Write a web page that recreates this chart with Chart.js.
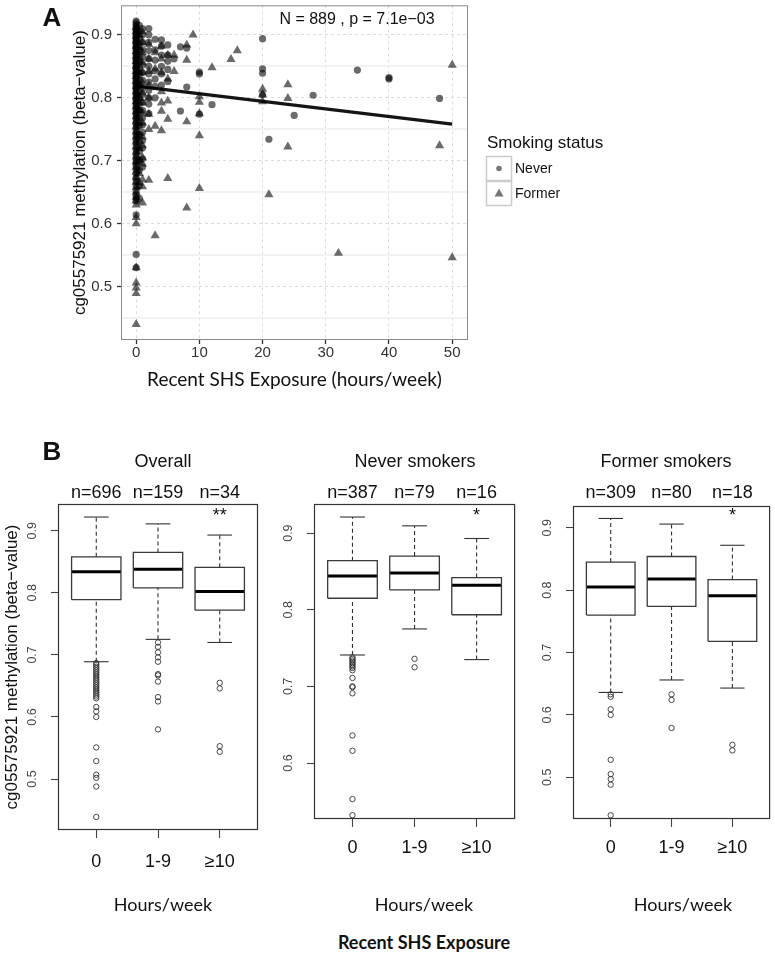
<!DOCTYPE html>
<html>
<head>
<meta charset="utf-8">
<script src="https://cdn.jsdelivr.net/npm/chart.js@4.4.1/dist/chart.umd.min.js"></script>
<style>
body { margin: 0; background: #fff; }
#wrap { position: relative; width: 775px; height: 953px; overflow: hidden; font-family: "Liberation Sans", Arial, sans-serif; color: #111; }
canvas { position: absolute; }
.lbl { position: absolute; white-space: nowrap; transform: translate(-50%, -50%); line-height: 1; }
.cal { font-family: Lato, "Open Sans", sans-serif; }
</style>
</head>
<body>
<div id="wrap">
  <canvas id="scatterA" width="640" height="400" style="left:0;top:0"></canvas>
  <canvas id="boxAll" width="265" height="480" style="left:0;top:440px"></canvas>
  <canvas id="boxNever" width="255" height="480" style="left:265px;top:440px"></canvas>
  <canvas id="boxFormer" width="255" height="480" style="left:520px;top:440px"></canvas>

  <div class="lbl" style="left:52px;top:17px;font-weight:bold;font-size:26px">A</div>
  <div class="lbl" style="left:357px;top:19px;font-size:16px">N = 889 , p = 7.1e−03</div>
  <div class="lbl" style="left:52px;top:451px;font-weight:bold;font-size:26px">B</div>
  <div class="lbl" style="left:163px;top:461px;font-size:18px">Overall</div>
  <div class="lbl" style="left:415px;top:461px;font-size:18px">Never smokers</div>
  <div class="lbl" style="left:666px;top:461px;font-size:18px">Former smokers</div>
  <div class="lbl cal" style="left:163px;top:904px;font-size:18px">Hours/week</div>
  <div class="lbl cal" style="left:424px;top:904px;font-size:18px">Hours/week</div>
  <div class="lbl cal" style="left:683px;top:904px;font-size:18px">Hours/week</div>
  <div class="lbl cal" style="left:424px;top:942px;font-size:18px;font-weight:bold">Recent SHS Exposure</div>
</div>
<script>
// ---- panel A: scatter, [hours/week, beta] ----
const neverPoints = [
  [0,0.922],[0,0.919],[0,0.916],[0,0.913],[0,0.91],[0,0.908],[0,0.905],[0,0.903],[0,0.9],[0,0.898],
  [0,0.895],[0,0.892],[0,0.89],[0,0.887],[0,0.884],[0,0.881],[0,0.879],[0,0.876],[0,0.873],[0,0.87],
  [0,0.868],[0,0.865],[0,0.862],[0,0.859],[0,0.857],[0,0.854],[0,0.851],[0,0.848],[0,0.846],[0,0.843],
  [0,0.84],[0,0.837],[0,0.835],[0,0.832],[0,0.829],[0,0.826],[0,0.823],[0,0.82],[0,0.817],[0,0.814],
  [0,0.811],[0,0.808],[0,0.805],[0,0.801],[0,0.798],[0,0.795],[0,0.791],[0,0.787],[0,0.783],[0,0.779],
  [0,0.775],[0,0.771],[0,0.767],[0,0.762],[0,0.758],[0,0.753],[0,0.748],[0,0.743],[0,0.738],[0,0.733],
  [0,0.728],[0,0.722],[0,0.717],[0,0.711],[0,0.706],[0,0.7],[0,0.696],[0,0.691],[0,0.686],[0,0.68],
  [0,0.673],[0,0.667],[0,0.66],[0,0.652],[0,0.645],[0,0.641],[0,0.636],[0,0.614],[0,0.551],[0,0.53],
  [0.5,0.915],[0.5,0.905],[0.5,0.895],[0.5,0.885],[0.5,0.875],[0.5,0.866],[0.5,0.856],[0.5,0.847],
  [0.5,0.838],[0.5,0.829],[0.5,0.82],[0.5,0.81],[0.5,0.8],[0.5,0.79],[0.5,0.78],[0.5,0.768],
  [0.5,0.755],[0.5,0.742],[0.5,0.73],[0.5,0.715],[0.5,0.7],[0.5,0.685],[0.5,0.66],[0.5,0.64],
  [1,0.91],[1,0.9],[1,0.888],[1,0.876],[1,0.865],[1,0.852],[1,0.84],[1,0.828],[1,0.816],[1,0.805],
  [1,0.793],[1,0.78],[1,0.768],[1,0.757],[1,0.745],[1,0.732],[1,0.72],[1,0.703],[1,0.69],
  [2,0.91],[2,0.9],[2,0.888],[2,0.875],[2,0.862],[2,0.85],[2,0.838],[2,0.825],[2,0.812],[2,0.8],[2,0.79],[2,0.775],
  [3,0.893],[3,0.876],[3,0.86],[3,0.843],[3,0.83],[3,0.818],[3,0.8],
  [4,0.892],[4,0.882],[4,0.868],[4,0.85],[4,0.838],[4,0.82],
  [5,0.884],[5,0.868],[5,0.858],[5,0.845],[5,0.826],
  [6,0.862],[7,0.881],[7,0.779],[8,0.879],[8,0.817],
  [10,0.841],[10,0.838],[10,0.774],[12,0.789],
  [20,0.894],[20,0.846],[20,0.839],[20,0.805],[21,0.734],[25,0.772],[28,0.804],
  [35,0.844],[40,0.832],[40,0.83],[48,0.799]
];
const formerPoints = [
  [0,0.912],[0,0.905],[0,0.898],[0,0.89],[0,0.882],[0,0.874],[0,0.866],[0,0.858],[0,0.85],[0,0.842],
  [0,0.834],[0,0.826],[0,0.818],[0,0.81],[0,0.802],[0,0.794],[0,0.786],[0,0.778],[0,0.77],[0,0.762],
  [0,0.754],[0,0.746],[0,0.738],[0,0.73],[0,0.722],[0,0.714],[0,0.706],[0,0.698],[0,0.69],[0,0.682],
  [0,0.674],[0,0.666],[0,0.658],[0,0.65],[0,0.642],[0,0.636],[0,0.63],[0,0.61],[0,0.6],[0,0.53],
  [0,0.506],[0,0.498],[0,0.489],[0,0.44],
  [0.5,0.9],[0.5,0.88],[0.5,0.86],[0.5,0.84],[0.5,0.82],[0.5,0.8],[0.5,0.78],[0.5,0.76],[0.5,0.74],
  [0.5,0.72],[0.5,0.7],[0.5,0.68],[0.5,0.665],
  [1,0.905],[1,0.888],[1,0.872],[1,0.856],[1,0.84],[1,0.824],[1,0.808],[1,0.792],[1,0.776],[1,0.76],
  [1,0.738],[1,0.724],[1,0.705],[1,0.695],[1,0.67],[1,0.659],[1,0.633],
  [2,0.885],[2,0.862],[2,0.842],[2,0.82],[2,0.8],[2,0.774],[2,0.75],[2,0.669],
  [3,0.872],[3,0.846],[3,0.755],[3,0.581],
  [4,0.882],[4,0.862],[4,0.84],[4,0.81],[4,0.792],[4,0.779],[4,0.748],
  [5,0.868],[5,0.83],[5,0.795],[5,0.766],[5,0.672],
  [6,0.868],[6,0.842],[8,0.884],[8,0.86],[8,0.762],[8,0.625],[9,0.9],
  [10,0.802],[10,0.793],[10,0.775],[10,0.74],[10,0.656],
  [12,0.848],[15,0.861],[16,0.875],[20,0.814],[20,0.805],[20,0.794],[21,0.646],
  [24,0.821],[24,0.799],[24,0.722],[32,0.553],[48,0.724],[50,0.852],[50,0.546]
];
const fitHours = [0, 50];
const fitBeta = [0.8185, 0.758];
const hourTicks = [0, 10, 20, 30, 40, 50];
const betaTicksA = [0.45, 0.5, 0.55, 0.6, 0.65, 0.7, 0.75, 0.8, 0.85, 0.9];

// ---- panel B: boxplots by exposure group ----
const groups = ['0', '1-9', '≥10'];
const allN = [696, 159, 34];
const allLow = [0.689, 0.725, 0.72];
const allQ1 = [0.789, 0.808, 0.772];
const allMed = [0.834, 0.838, 0.802];
const allQ3 = [0.858, 0.865, 0.841];
const allHigh = [0.922, 0.911, 0.893];
const allOut = [
  [0.687, 0.684, 0.681, 0.678, 0.675, 0.672, 0.669, 0.666, 0.663, 0.66, 0.657, 0.654, 0.651, 0.648,
   0.645, 0.642, 0.639, 0.636, 0.633, 0.63, 0.616, 0.609, 0.6, 0.551, 0.529, 0.507, 0.502, 0.488, 0.439],
  [0.72, 0.713, 0.704, 0.696, 0.689, 0.669, 0.667, 0.657, 0.632, 0.625, 0.58],
  [0.655, 0.646, 0.553, 0.544]
];
const neverN = [387, 79, 16];
const neverLow = [0.741, 0.775, 0.735];
const neverQ1 = [0.815, 0.826, 0.7935];
const neverMed = [0.844, 0.848, 0.832];
const neverQ3 = [0.864, 0.87, 0.842];
const neverHigh = [0.921, 0.9095, 0.893];
const neverOut = [
  [0.738, 0.736, 0.734, 0.732, 0.73, 0.728, 0.726, 0.724, 0.721, 0.711, 0.7, 0.699, 0.691, 0.636, 0.616, 0.553, 0.532],
  [0.736, 0.725],
  []
];
const formerN = [309, 80, 18];
const formerLow = [0.636, 0.656, 0.643];
const formerQ1 = [0.76, 0.774, 0.718];
const formerMed = [0.805, 0.818, 0.791];
const formerQ3 = [0.845, 0.854, 0.817];
const formerHigh = [0.915, 0.906, 0.872];
const formerOut = [
  [0.633, 0.629, 0.609, 0.6, 0.528, 0.505, 0.497, 0.488, 0.439],
  [0.633, 0.624, 0.579],
  [0.552, 0.543]
];

Chart.defaults.font.family = '"Liberation Sans", Arial, sans-serif';
Chart.defaults.color = '#222';

const isMajor = v => v !== undefined && Math.round(v * 100) % 10 === 0;
const asXY = pts => pts.map(p => ({ x: p[0], y: p[1] }));
// keep tick labels from pushing the plot area around
const noPad = s => { s.paddingTop = 0; s.paddingBottom = 0; s.paddingLeft = 0; s.paddingRight = 0; };

// plot frame
const frame = {
  id: 'frame',
  afterDatasetsDraw(chart, args, o) {
    const a = chart.chartArea, c = chart.ctx;
    c.save();
    c.strokeStyle = o.color;
    c.lineWidth = o.width;
    c.strokeRect(a.left + 0.5, a.top + 0.5, a.width - 1, a.height - 1);
    c.restore();
  }
};

// ggplot style legend for panel A
const legendA = {
  id: 'legendA',
  afterDraw(chart) {
    const c = chart.ctx;
    c.save();
    c.fillStyle = '#111';
    c.textBaseline = 'middle';
    c.font = '17px "Liberation Sans", Arial';
    c.fillText('Smoking status', 487, 143);
    c.strokeStyle = '#cccccc';
    c.lineWidth = 1.5;
    c.strokeRect(486.5, 156.5, 25, 24);
    c.strokeRect(486.5, 181.5, 25, 24);
    c.fillStyle = '#777';
    c.beginPath(); c.arc(499, 168.5, 2.8, 0, Math.PI * 2); c.fill();
    c.beginPath(); c.moveTo(499, 188.5); c.lineTo(503.5, 196.5); c.lineTo(494.5, 196.5); c.closePath(); c.fill();
    c.fillStyle = '#111';
    c.font = '14px "Liberation Sans", Arial';
    c.fillText('Never', 515, 169);
    c.fillText('Former', 515, 194);
    c.restore();
  }
};

new Chart(document.getElementById('scatterA'), {
  type: 'scatter',
  data: {
    datasets: [
      { label: 'Never', data: asXY(neverPoints), pointStyle: 'circle', pointRadius: 3.6,
        backgroundColor: 'rgba(0,0,0,0.58)', borderWidth: 0 },
      { label: 'Former', data: asXY(formerPoints), pointStyle: 'triangle', pointRadius: 5.3,
        backgroundColor: 'rgba(0,0,0,0.58)', borderWidth: 0 },
      { label: 'fit', data: fitHours.map((h, i) => ({ x: h, y: fitBeta[i] })), showLine: true,
        borderColor: '#151515', borderWidth: 3.2, pointRadius: 0 }
    ]
  },
  options: {
    responsive: false, animation: false, events: [],
    layout: { padding: { left: 0, top: 2, right: 172, bottom: 0 } },
    plugins: { legend: { display: false }, tooltip: { enabled: false }, frame: { color: '#8a8a8a', width: 1 } },
    scales: {
      x: {
        type: 'linear', min: -2.4, max: 52.5,
        afterBuildTicks: s => { s.ticks = hourTicks.map(v => ({ value: v })); },
        afterFit: s => { s.height = 60; noPad(s); },
        ticks: { font: { size: 15 }, color: '#333', padding: 0, maxRotation: 0 },
        grid: { color: '#dcdcdc', tickColor: '#333', tickLength: 4, tickWidth: 1.3 },
        border: { display: false, dash: [3, 3] },
        title: { display: true, text: 'Recent SHS Exposure (hours/week)', color: '#111',
          font: { family: 'Lato, "Open Sans", sans-serif', size: 19 }, padding: { top: 0, bottom: 9 } }
      },
      y: {
        min: 0.415, max: 0.947,
        afterBuildTicks: s => { s.ticks = betaTicksA.map(v => ({ value: v })); },
        afterFit: s => { s.width = 121; noPad(s); },
        ticks: { font: { size: 15 }, color: '#333', padding: 5, callback: v => isMajor(v) ? v.toFixed(1) : '' },
        grid: {
          color: c => isMajor(c.tick && c.tick.value) ? '#dcdcdc' : '#f2f2f2',
          lineWidth: c => isMajor(c.tick && c.tick.value) ? 1 : 2,
          tickColor: c => isMajor(c.tick && c.tick.value) ? '#333' : 'rgba(0,0,0,0)',
          tickLength: 4, tickWidth: 1.3
        },
        border: { display: false, dash: c => isMajor(c.tick && c.tick.value) ? [3, 3] : [] },
        title: { display: true, text: 'cg05575921 methylation (beta−value)', color: '#111',
          font: { size: 17 }, padding: { top: 70, bottom: 0 } }
      }
    }
  },
  plugins: [frame, legendA]
});

// ---- panel B ----
const boxText = {
  id: 'boxText',
  afterDraw(chart, args, o) {
    const { ctx, chartArea: a, scales: { x, y } } = chart;
    ctx.save();
    ctx.fillStyle = '#111';
    ctx.textAlign = 'center';
    ctx.textBaseline = 'middle';
    ctx.font = '18px "Liberation Sans", Arial';
    o.counts.forEach((n, i) => ctx.fillText('n=' + n, x.getPixelForValue(i + 1), o.countY));
    ctx.fillText(o.star, x.getPixelForValue(3), o.starY);
    ctx.font = '12.5px "Liberation Sans", Arial';
    ctx.fillStyle = '#444';
    y.ticks.forEach(t => {
      ctx.save();
      ctx.translate(a.left - 25, y.getPixelForValue(t.value));
      ctx.rotate(-Math.PI / 2);
      ctx.fillText(t.value.toFixed(1), 0, 0);
      ctx.restore();
    });
    ctx.restore();
  }
};

function boxplot(id, s) {
  const line = (pts, extra) => Object.assign({
    data: pts.map(p => ({ x: p[0], y: p[1] })), showLine: true, pointRadius: 0,
    borderColor: '#333', borderWidth: 1.1, fill: false
  }, extra);
  const sets = [];
  groups.forEach((g, i) => {
    const x = i + 1;
    sets.push(line([[x, s.q3[i]], [x, s.high[i]]], { borderDash: [4, 3] }));
    sets.push(line([[x, s.low[i]], [x, s.q1[i]]], { borderDash: [4, 3] }));
    sets.push(line([[x - 0.2, s.high[i]], [x + 0.2, s.high[i]]]));
    sets.push(line([[x - 0.2, s.low[i]], [x + 0.2, s.low[i]]]));
    sets.push(line([[x - 0.4, s.q1[i]], [x + 0.4, s.q1[i]], [x + 0.4, s.q3[i]], [x - 0.4, s.q3[i]], [x - 0.4, s.q1[i]]],
      { borderColor: '#3a3a3a', borderWidth: 1.3 }));
    sets.push(line([[x - 0.4, s.med[i]], [x + 0.4, s.med[i]]], { borderColor: '#000', borderWidth: 3 }));
  });
  const outliers = [];
  s.out.forEach((arr, i) => arr.forEach(v => outliers.push({ x: i + 1, y: v })));
  sets.push({ data: outliers, pointStyle: 'circle', pointRadius: 2.7, borderColor: '#333',
    borderWidth: 0.9, backgroundColor: 'rgba(0,0,0,0)', showLine: false });

  new Chart(document.getElementById(id), {
    type: 'scatter',
    data: { datasets: sets },
    options: {
      responsive: false, animation: false, events: [],
      layout: { padding: { left: 0, top: s.top, right: s.right, bottom: 0 } },
      plugins: { legend: { display: false }, tooltip: { enabled: false },
        frame: { color: '#333', width: 1.2 },
        boxText: { counts: s.n, countY: 53, star: s.star, starY: 76 } },
      scales: {
        x: {
          type: 'linear', min: 0.38, max: 3.62,
          afterBuildTicks: sc => { sc.ticks = [1, 2, 3].map(v => ({ value: v })); },
          afterFit: sc => { sc.height = s.xh; noPad(sc); },
          ticks: { font: { size: 18 }, color: '#111', padding: s.xpad, maxRotation: 0,
            callback: v => groups[v - 1] },
          grid: { drawOnChartArea: false, tickColor: '#444', tickLength: 8, tickWidth: 1.1 },
          border: { display: false }
        },
        y: {
          min: s.ymin, max: s.ymax,
          afterBuildTicks: sc => { sc.ticks = s.ticks.map(v => ({ value: v })); },
          afterFit: sc => { sc.width = s.yw; noPad(sc); },
          ticks: { display: false },
          grid: { drawOnChartArea: false, tickColor: '#444', tickLength: 7, tickWidth: 1.1 },
          border: { display: false },
          title: { display: !!s.ytitle, text: s.ytitle, color: '#111', font: { size: 17 },
            padding: { top: 2, bottom: 0 } }
        }
      }
    },
    plugins: [frame, boxText]
  });
}

boxplot('boxAll', { n: allN, low: allLow, q1: allQ1, med: allMed, q3: allQ3, high: allHigh, out: allOut,
  star: '**', ymin: 0.418, ymax: 0.943, ticks: [0.5, 0.6, 0.7, 0.8, 0.9],
  top: 64, right: 7, yw: 58, xh: 90, xpad: 13, ytitle: 'cg05575921 methylation (beta−value)' });
boxplot('boxNever', { n: neverN, low: neverLow, q1: neverQ1, med: neverMed, q3: neverQ3, high: neverHigh, out: neverOut,
  star: '*', ymin: 0.527, ymax: 0.938, ticks: [0.6, 0.7, 0.8, 0.9],
  top: 64, right: 4, yw: 49, xh: 101, xpad: 10 });
boxplot('boxFormer', { n: formerN, low: formerLow, q1: formerQ1, med: formerMed, q3: formerQ3, high: formerHigh, out: formerOut,
  star: '*', ymin: 0.433, ymax: 0.935, ticks: [0.5, 0.6, 0.7, 0.8, 0.9],
  top: 66, right: 3, yw: 53, xh: 101, xpad: 10 });
</script>
</body>
</html>
